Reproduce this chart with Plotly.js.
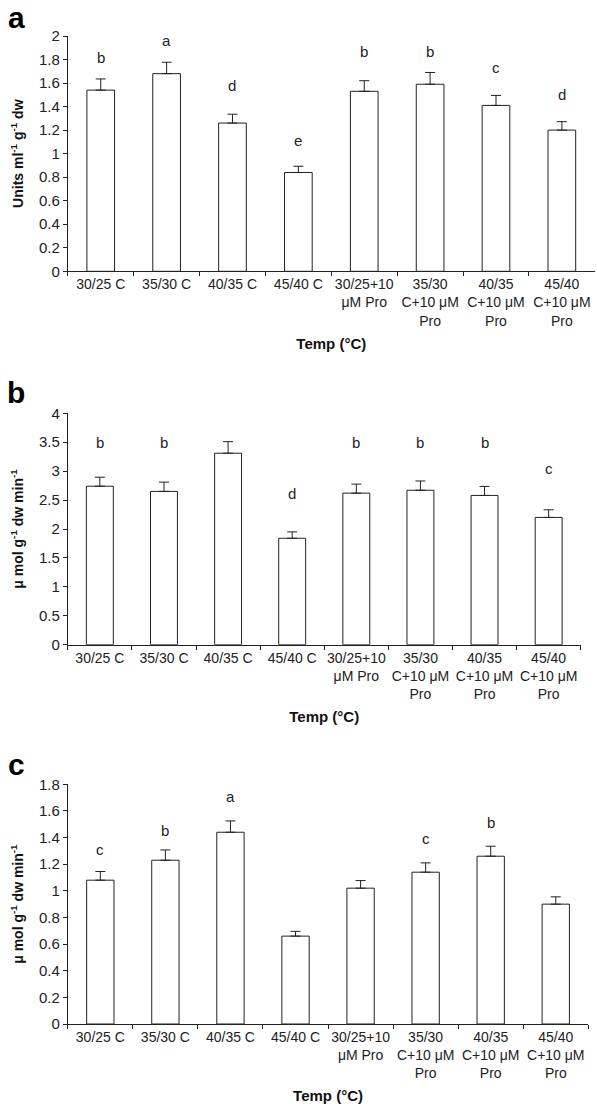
<!DOCTYPE html>
<html>
<head>
<meta charset="utf-8">
<script src="https://cdn.plot.ly/plotly-3.0.1.min.js"></script>
<style>html,body{margin:0;padding:0;background:#fff;}#chart{width:597px;height:1104px;}</style>
</head>
<body>
<div id="chart"></div>
<script>
// ---- data ----
const categories = ["30/25 C", "35/30 C", "40/35 C", "45/40 C",
  "30/25+10<br>μM Pro", "35/30<br>C+10 μM<br>Pro", "40/35<br>C+10 μM<br>Pro", "45/40<br>C+10 μM<br>Pro"];

// panel a
const valuesA = [1.54, 1.68, 1.26, 0.84, 1.53, 1.59, 1.41, 1.20];
const errorsA = [0.095, 0.097, 0.075, 0.053, 0.09, 0.10, 0.085, 0.072];
const lettersA = ["b", "a", "d", "e", "b", "b", "c", "d"];
const letterYA = [1.82, 1.96, 1.58, 1.11, 1.87, 1.87, 1.73, 1.50];

// panel b
const valuesB = [2.74, 2.65, 3.31, 1.84, 2.62, 2.67, 2.58, 2.20];
const errorsB = [0.155, 0.16, 0.20, 0.11, 0.156, 0.16, 0.156, 0.132];
const lettersB = ["b", "b", "a", "d", "b", "b", "b", "c"];
const letterYB = [3.49, 3.49, 4.01, 2.62, 3.49, 3.49, 3.49, 3.05];

// panel c
const valuesC = [1.08, 1.23, 1.44, 0.66, 1.02, 1.14, 1.26, 0.90];
const errorsC = [0.065, 0.077, 0.085, 0.036, 0.057, 0.07, 0.075, 0.055];
const lettersC = ["c", "b", "a", "", "", "c", "b", ""];
const letterYC = [1.31, 1.455, 1.71, null, null, 1.39, 1.515, null];

const yTitles = ["Units ml<sup>-1</sup> g<sup>-1</sup> dw",
  "μ mol g<sup>-1</sup> dw min<sup>-1</sup>",
  "μ mol g<sup>-1</sup> dw min<sup>-1</sup>"];
const xTitle = "Temp (°C)";
const panelLabels = ["a", "b", "c"];

// ---- styling / building ----
const FONT = "Liberation Sans, Arial, Helvetica, sans-serif";
const INK = "#222";
const W = 597, H = 1104;

const panels = [
  {vals: valuesA, errs: errorsA, letters: lettersA, ly: letterYA, range: [0, 2], dtick: 0.2,
   xpx: [67.8, 594.8], ypx: [36, 271.3], lab: [16, 18]},
  {vals: valuesB, errs: errorsB, letters: lettersB, ly: letterYB, range: [0, 4], dtick: 0.5,
   xpx: [67.8, 580.7], ypx: [413.3, 644.7], lab: [16, 393]},
  {vals: valuesC, errs: errorsC, letters: lettersC, ly: letterYC, range: [0, 1.8], dtick: 0.2,
   xpx: [67.8, 588.3], ypx: [784.3, 1024], lab: [16, 764]}
];

const traces = [];
const layout = {
  width: W, height: H,
  margin: {l: 0, r: 0, t: 0, b: 0},
  paper_bgcolor: "#fff", plot_bgcolor: "#fff",
  showlegend: false,
  font: {family: FONT, color: INK},
  annotations: []
};

panels.forEach((p, i) => {
  const s = i === 0 ? "" : String(i + 1);
  traces.push({
    type: "bar",
    x: categories,
    y: p.vals,
    xaxis: "x" + s, yaxis: "y" + s,
    width: 0.42,
    marker: {color: "#fff", line: {color: INK, width: 1}},
    error_y: {type: "data", symmetric: false, array: p.errs,
              arrayminus: p.errs.map(() => 0), color: INK, thickness: 1, width: 5},
    hoverinfo: "skip"
  });
  layout["xaxis" + s] = {
    domain: [p.xpx[0] / W, p.xpx[1] / W],
    anchor: "y" + s,
    type: "category",
    showline: true, linecolor: INK, linewidth: 1,
    ticks: "outside", tickson: "boundaries", ticklen: 4, tickcolor: INK,
    tickangle: 0,
    tickfont: {family: FONT, size: 14, color: INK},
    showgrid: false, zeroline: false,
    title: {text: xTitle, font: {family: FONT, size: 15, weight: "bold", color: "#111"}, standoff: 10},
    fixedrange: true
  };
  layout["yaxis" + s] = {
    domain: [1 - p.ypx[1] / H, 1 - p.ypx[0] / H],
    anchor: "x" + s,
    range: p.range, tick0: 0, dtick: p.dtick,
    showline: true, linecolor: INK, linewidth: 1,
    ticks: "outside", ticklen: 4, tickcolor: INK,
    tickfont: {family: FONT, size: 15, color: INK},
    showgrid: false, zeroline: false,
    title: {text: yTitles[i], font: {family: FONT, size: 14, weight: "bold", color: "#111"}, standoff: 12},
    fixedrange: true
  };
  p.letters.forEach((t, k) => {
    if (!t) return;
    layout.annotations.push({
      xref: "x" + s, yref: "y" + s, x: categories[k], y: p.ly[k],
      text: t, showarrow: false, yanchor: "middle",
      font: {family: FONT, size: 15, color: INK}
    });
  });
  layout.annotations.push({
    xref: "paper", yref: "paper", x: p.lab[0] / W, y: 1 - p.lab[1] / H,
    text: panelLabels[i], showarrow: false, xanchor: "center", yanchor: "middle",
    font: {family: FONT, size: 30, weight: "bold", color: "#000"}
  });
});

Plotly.newPlot("chart", traces, layout, {staticPlot: true, displayModeBar: false});
</script>
</body>
</html>
